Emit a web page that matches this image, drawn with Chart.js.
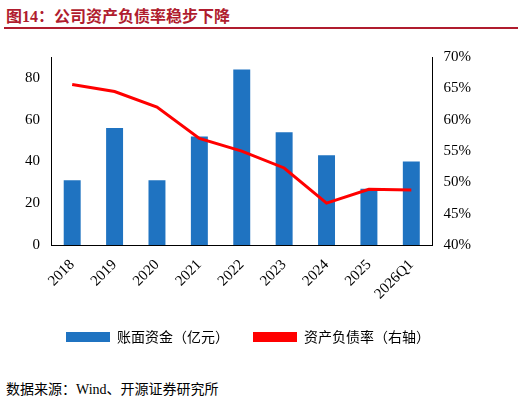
<!DOCTYPE html>
<html><head><meta charset="utf-8">
<script src="https://cdn.jsdelivr.net/npm/chart.js@4"></script>
<style>
body{margin:0;width:522px;height:404px;background:#fff;font-family:"Liberation Serif","Noto Sans CJK SC",serif;position:relative;overflow:hidden}
#t{position:absolute;left:6px;top:3px;font:bold 16px "Liberation Serif","Noto Sans CJK SC";color:#b01c2e}
#ln{position:absolute;left:4px;right:4px;top:27px;border-top:2px solid #b01c2e}
#c{position:absolute;left:0;top:38px;width:522px;height:316px}
#s{position:absolute;left:6px;top:378px;font:14px "Liberation Serif","Noto Sans CJK SC";color:#000}
</style></head><body>
<div id="t">图14：公司资产负债率稳步下降</div><div id="ln"></div>
<div id="c"><canvas id="cv"></canvas></div>
<div id="s">数据来源：Wind、开源证券研究所</div>
<script>
const categories=["2018","2019","2020","2021","2022","2023","2024","2025","2026Q1"];
const cash=[31,56,31,52,84,54,43,27,40];
const debtRatio=[65.6,64.5,62,57,55,52.3,46.7,48.9,48.8];
const font={family:"Liberation Serif, Noto Sans CJK SC",size:15};
new Chart(document.getElementById('cv'),{
data:{labels:categories,datasets:[
{type:'bar',label:'账面资金（亿元）',data:cash,backgroundColor:'#1f73c1',yAxisID:'y',barPercentage:0.4,categoryPercentage:1,order:2},
{type:'line',label:'资产负债率（右轴）',data:debtRatio,borderColor:'#ff0000',backgroundColor:'#ff0000',borderWidth:3,pointRadius:0,yAxisID:'y1',order:1,tension:0}
]},
options:{responsive:true,maintainAspectRatio:false,animation:false,
layout:{padding:{left:22,right:48,top:19}},
plugins:{legend:{position:'bottom',labels:{font:{family:"Noto Sans CJK SC",size:14},color:'#000',boxWidth:44,boxHeight:10,padding:24,
generateLabels(ch){return ch.data.datasets.map((d,i)=>({text:d.label,fillStyle:d.type==='bar'?'#1f73c1':'#ff0000',strokeStyle:d.type==='bar'?'#1f73c1':'#ff0000',lineWidth:0,datasetIndex:i}));}}},tooltip:{enabled:false}},
scales:{
x:{grid:{display:false},border:{color:'#000'},ticks:{font,color:'#000',maxRotation:45,minRotation:45}},
y:{min:0,max:90,ticks:{stepSize:10,font,color:'#000'},grid:{display:false},border:{color:'#000'}},
y1:{position:'right',min:40,max:70,ticks:{stepSize:5,font,color:'#000',callback:v=>v+'%'},grid:{display:false},border:{color:'#000'}}
}}});
</script></body></html>
